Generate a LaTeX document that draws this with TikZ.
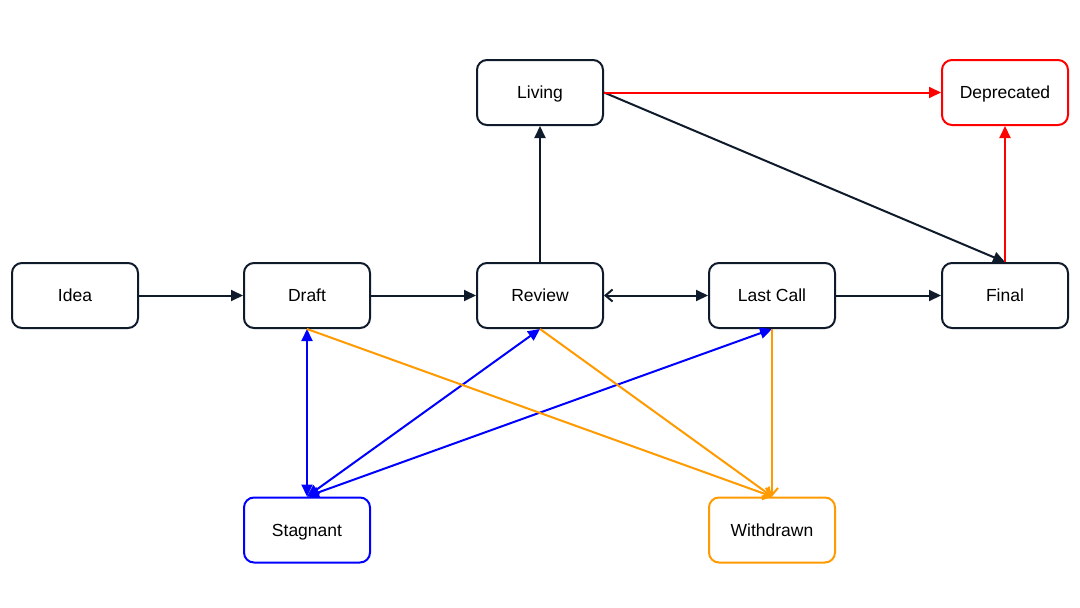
\documentclass[tikz,border=0pt]{standalone}
\usepackage{fontspec}
\setmainfont{Liberation Sans}
\usetikzlibrary{arrows.meta}
\definecolor{ink}{HTML}{0F1A2A}
\definecolor{bl}{HTML}{0000FF}
\definecolor{org}{HTML}{FF9A00}
\definecolor{rd}{HTML}{FF0000}
\begin{document}
\begin{tikzpicture}[x=1pt,y=-1pt,
  state/.style={draw=ink,line width=2pt,rounded corners=10pt,minimum width=126pt,minimum height=65pt,inner sep=0pt,text height=14pt,text depth=2pt,font=\fontsize{17.5}{20}\selectfont,text=black},
  edge/.style={line width=2pt,draw=ink},
  fill tip/.style={-{Triangle[length=12pt,width=11pt]}},
  open tip/.style={-{Straight Barb[length=7pt,width=12pt]}},
]
\useasboundingbox (0,0) rectangle (1080,608);
\node[state] (idea) at (75,295.5) {Idea};
\node[state] (draft) at (307,295.5) {Draft};
\node[state] (review) at (540,295.5) {Review};
\node[state] (lastcall) at (772,295.5) {Last Call};
\node[state] (final) at (1005,295.5) {Final};
\node[state] (living) at (540,92.5) {Living};
\node[state,draw=rd] (deprecated) at (1005,92.5) {Deprecated};
\node[state,draw=bl] (stagnant) at (307,530) {Stagnant};
\node[state,draw=org] (withdrawn) at (772,530) {Withdrawn};

\draw[edge,fill tip] (idea) -- (draft);
\draw[edge,fill tip] (draft) -- (review);
\draw[edge,{Straight Barb[length=7pt,width=12pt]}-{Triangle[length=12pt,width=11pt]}] (review) -- (lastcall);
\draw[edge,fill tip] (lastcall) -- (final);
\draw[edge,fill tip] (review) -- (living);
\draw[edge,fill tip] (living.east) -- (final.north);
\draw[edge,draw=rd,fill tip] (living) -- (deprecated);
\draw[edge,draw=rd,fill tip] (final) -- (deprecated);

\draw[edge,draw=bl,{Triangle[length=12pt,width=11pt]}-{Triangle[length=12pt,width=11pt]}] (draft.south) -- (stagnant.north);
\draw[edge,draw=bl,{Triangle[length=12pt,width=11pt]}-{Triangle[length=12pt,width=11pt]}] (review.south) -- (stagnant.north);
\draw[edge,draw=bl,{Triangle[length=12pt,width=11pt]}-{Triangle[length=12pt,width=11pt]}] (lastcall.south) -- (stagnant.north);

\draw[edge,draw=org,open tip] (draft.south) -- (withdrawn.north);
\draw[edge,draw=org,open tip] (review.south) -- (withdrawn.north);
\draw[edge,draw=org,open tip] (lastcall.south) -- (withdrawn.north);
\end{tikzpicture}
\end{document}
